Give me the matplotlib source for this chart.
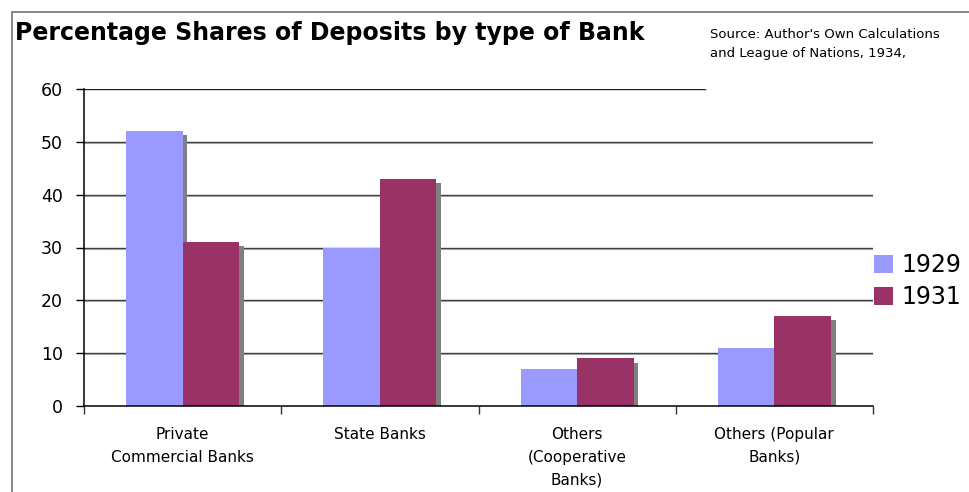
import numpy as np
import matplotlib.pyplot as plt
import matplotlib.patheffects as pe
from matplotlib.patches import Rectangle

plt.rcParams['font.family'] = ['DejaVu Sans']

# Deposit shares (%) by bank type
categories = ['Private\nCommercial Banks', 'State Banks',
              'Others\n(Cooperative\nBanks)', 'Others (Popular\nBanks)']
shares_1929 = [52, 30, 7, 11]
shares_1931 = [31, 43, 9, 17]
years = ['1929', '1931']
colors = ['#9999FF', '#993366']

fig = plt.figure(figsize=(9.69, 4.92), dpi=100)
ax = fig.add_axes([84/969, 1 - 406/492, (873 - 84)/969, (406 - 89)/492])

x = np.arange(len(categories))
w = 0.287
shadow = [pe.SimplePatchShadow(offset=(3.3, -3), shadow_rgbFace='#808080', alpha=1.0),
          pe.Normal()]

for i, (vals, col, lab) in enumerate(zip([shares_1929, shares_1931], colors, years)):
    bars = ax.bar(x + (i - 0.5) * w, vals, width=w, color=col, label=lab,
                  zorder=3 + i, linewidth=0)
    for b in bars:
        b.set_path_effects(shadow)

# horizontal gridlines with a faint under-line; the top one stops short
for yv in range(10, 60, 10):
    ax.axhline(yv - 0.22, color='#b8b8b8', lw=0.8, zorder=0.9)
    ax.axhline(yv, color='#404040', lw=1.0, zorder=1)
ax.axhline(60, xmax=(705 - 84)/(873 - 84), color='#222222', lw=1.0, zorder=1)

ax.set_xlim(-0.5, 3.5)
ax.set_ylim(0, 60)
ax.set_yticks(range(0, 61, 10))
ax.set_xticks(np.arange(-0.5, 3.6, 1.0))
ax.set_xticklabels([])
ax.set_xticks(x, minor=True)
ax.set_xticklabels(categories, minor=True, fontsize=11, linespacing=1.65,
                   va='top')
ax.tick_params(axis='x', which='minor', length=0, pad=15)
ax.tick_params(axis='x', which='major', length=6, width=1, color='#333333',
               direction='out')
ax.tick_params(axis='y', length=6, width=1, labelsize=12.5, pad=9)

for s in ['top', 'right']:
    ax.spines[s].set_visible(False)
for s in ['left', 'bottom']:
    ax.spines[s].set_color('black')
    ax.spines[s].set_linewidth(1.1)
    ax.spines[s].set_zorder(6)

fig.text(15/969, 1 - 33/492, 'Percentage Shares of Deposits by type of Bank',
         fontsize=17, fontweight='bold', va='center', ha='left')
fig.text(710/969, 1 - 44.5/492,
         "Source: Author's Own Calculations\nand League of Nations, 1934,",
         fontsize=9.5, va='center', ha='left', linespacing=1.6)

leg = ax.legend(loc='center left', bbox_to_anchor=(874/969, 1 - 281/492),
                bbox_transform=fig.transFigure, frameon=False, fontsize=17,
                handlelength=0.8, handleheight=0.8, handletextpad=0.35,
                labelspacing=0.33, borderpad=0, borderaxespad=0)
for h in leg.legend_handles:
    h.set_path_effects([])

# outer chart-area border (left and top edges visible)
fig.patches.append(Rectangle((12/969, -0.1), 1.2, 1 - 12/492 + 0.1,
                             transform=fig.transFigure, fill=False,
                             edgecolor='#7f7f7f', lw=1.3))

fig.savefig('out.png', dpi=100)
